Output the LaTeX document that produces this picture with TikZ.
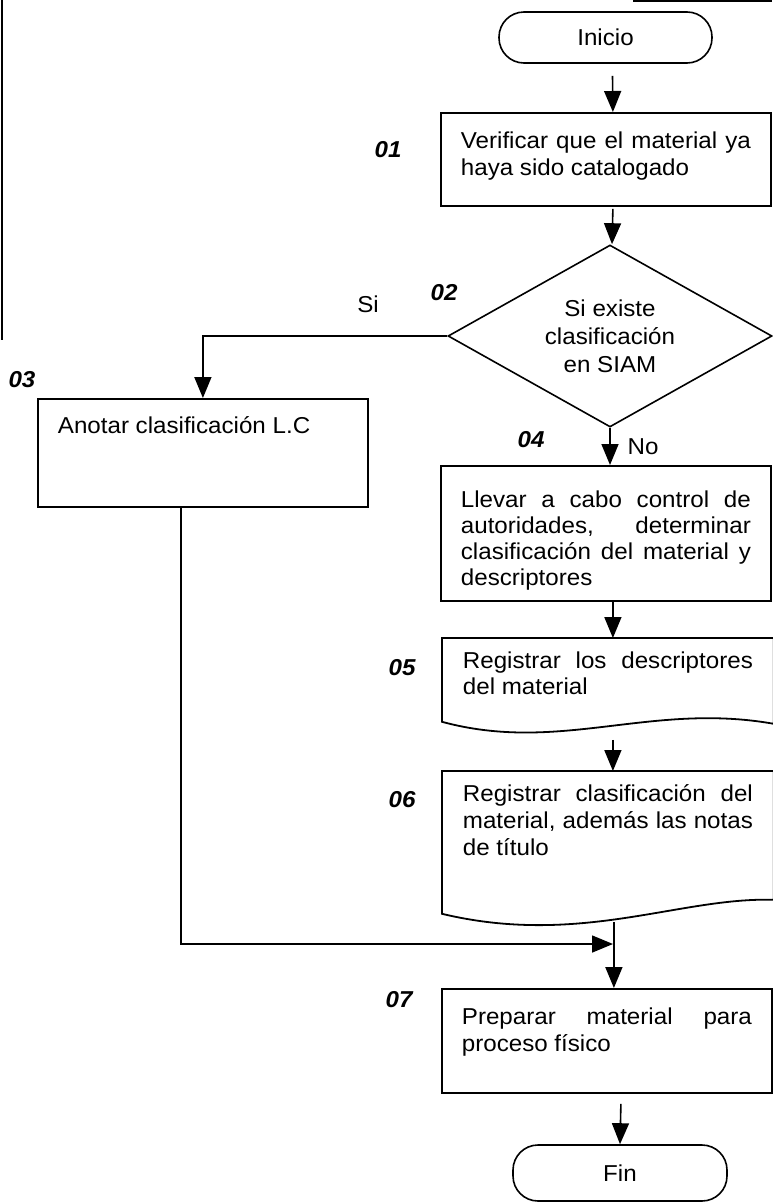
\documentclass[tikz,border=0pt]{standalone}
\usepackage{fontspec}
\setmainfont{Liberation Sans}[FakeStretch=1.05]
\usepackage{tikz}
\usetikzlibrary{arrows.meta,shapes.geometric,calc}
\tikzstyle{edge}=[draw=black, line width=1.8pt]
\tikzstyle{arrowedge}=[draw=black, line width=1.6pt, -{Triangle[length=21pt,width=17pt]}]
\tikzstyle{terminal}=[rectangle, rounded corners=25pt, draw=black, line width=1.6pt, font=\fontsize{23}{27}\selectfont]
\tikzstyle{proc}=[rectangle, draw=black, line width=1.8pt, anchor=north west, inner xsep=20pt, inner ysep=0pt, font=\fontsize{23}{27}\selectfont]
\tikzstyle{doc}=[proc, draw=none]
\tikzstyle{decision}=[diamond, aspect=1.78, draw=black, line width=1.6pt, inner sep=0pt, minimum width=324pt, minimum height=182pt, align=center, font=\fontsize{23}{28}\selectfont]
\tikzstyle{stepno}=[font=\fontsize{23}{27}\selectfont\bfseries\itshape]
\tikzstyle{lbl}=[font=\fontsize{23}{27}\selectfont]
\newcommand{\boxtext}[3]{\parbox[t][#1][t]{290pt}{\rule{0pt}{#2}#3}}

\begin{document}
\begin{tikzpicture}[x=1pt, y=-1pt]
	\useasboundingbox (0,0) rectangle (772,1202);
	% borde del escaneo
	\draw [line width=2pt] (2,0) -- (2,340);
	\draw [line width=1.5pt] (633,1) -- (772,1);
	% nodos
	\node [style=terminal, minimum width=213pt, minimum height=51pt] (ini) at (605.5,37.5) {Inicio};
	\node [style=proc] (n01) at (440,112) {\boxtext{93pt}{36pt}{Verificar que el material ya\linebreak haya sido catalogado}};
	\node [style=decision] (n02) at (610,336) {Si existe\\clasificación\\en SIAM};
	\node [style=proc] (n03) at (37,398) {\boxtext{108pt}{35pt}{Anotar clasificación L.C}};
	\node [style=proc] (n04) at (440,465) {\boxtext{135pt}{42pt}{\fontsize{23}{26}\selectfont Llevar a cabo control de\linebreak autoridades, determinar\linebreak clasificación del material y\linebreak descriptores\par}};
	\node [style=doc] (n05) at (442,638) {\boxtext{82pt}{30pt}{\fontsize{23}{26}\selectfont Registrar los descriptores\linebreak del material\par}};
	\node [style=doc] (n06) at (442,771) {\boxtext{141pt}{30pt}{\fontsize{23}{27}\selectfont Registrar clasificación del\linebreak material, además las notas\linebreak de título\par}};
	\node [style=proc] (n07) at (441,988) {\boxtext{104pt}{36pt}{Preparar material para\linebreak proceso físico}};
	\node [style=terminal, minimum width=214pt, minimum height=56pt] (fin) at (620,1173) {Fin};
	% numeros de paso y etiquetas
	\node [style=stepno] (s01) at (388,150) {01};
	\node [style=stepno] (s02) at (444,293) {02};
	\node [style=stepno] (s03) at (22,380) {03};
	\node [style=stepno] (s04) at (531,440) {04};
	\node [style=stepno] (s05) at (402,668) {05};
	\node [style=stepno] (s06) at (402,800) {06};
	\node [style=stepno] (s07) at (399,1000) {07};
	\node [style=lbl] (si) at (368,304) {Si};
	\node [style=lbl] (no) at (643,447) {No};
	% documentos
	\draw [style=edge] (n05.south west) -- (n05.north west) -- (n05.north east) -- ($(n05.south east)+(0,2)$)
		.. controls ($(n05.south west)+(208,-20)$) and ($(n05.south west)+(118,32)$) .. (n05.south west) -- cycle;
	\draw [style=edge] (n06.south west) -- (n06.north west) -- (n06.north east) -- ($(n06.south east)+(0,-14)$)
		.. controls ($(n06.south west)+(238,-17)$) and ($(n06.south west)+(138,33)$) .. (n06.south west) -- cycle;
	% conectores
	\coordinate (mrg) at (613,944);
	\draw [style=arrowedge] ([xshift=7pt,yshift=-12pt]ini.south) -- ([xshift=7pt]n01.north);
	\draw [style=arrowedge] ([xshift=7pt,yshift=-2pt]n01.south) -- ([xshift=2pt]n02.north);
	\draw [style=arrowedge] (n02.west) -| (n03.north);
	\draw [style=arrowedge] (n02.south) -- (n02.south |- n04.north);
	\draw [style=arrowedge] ([xshift=7pt]n04.south) -- ([xshift=5pt]n05.north);
	\draw [style=arrowedge] ([xshift=5pt,yshift=-18pt]n05.south) -- ([xshift=5pt]n06.north);
	\draw [style=arrowedge] ([xshift=-22pt]n03.south) |- (mrg);
	\draw [style=arrowedge] ([xshift=6pt,yshift=-8pt]n06.south) -- ([xshift=7pt]n07.north);
	\draw [style=arrowedge] ([xshift=14pt,yshift=-10pt]n07.south) -- (fin.north);
\end{tikzpicture}
\end{document}
